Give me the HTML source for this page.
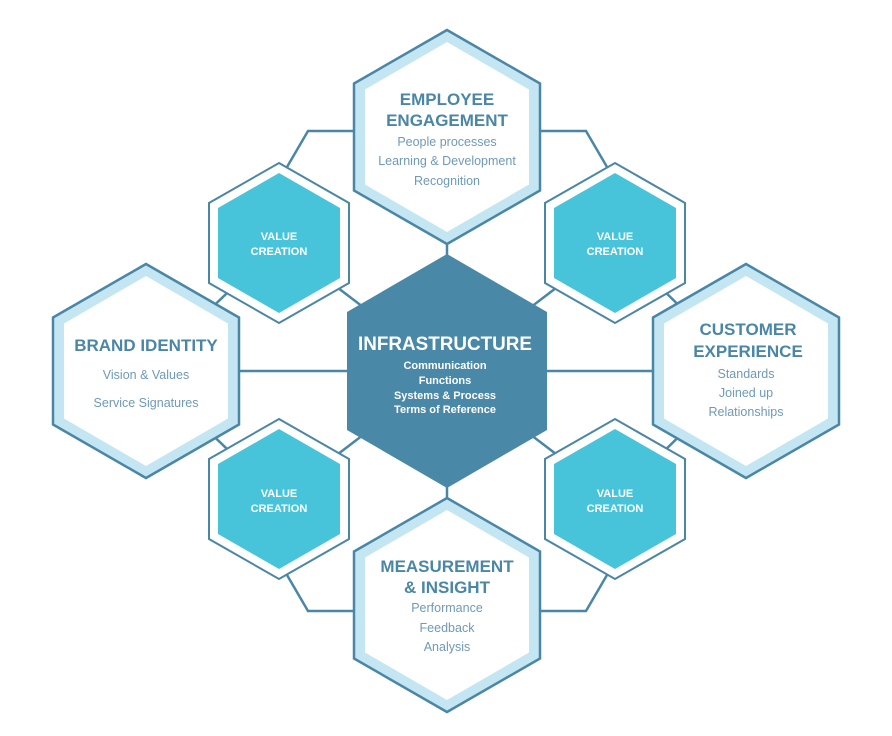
<!DOCTYPE html>
<html><head><meta charset="utf-8"><style>
html,body{margin:0;padding:0;background:#fff;}
svg{display:block;}
text{font-family:"Liberation Sans",sans-serif;text-anchor:middle;}
.t{fill:#4a86a6;font-weight:bold;font-size:17px;}
.b{fill:#6f9ab5;font-size:12.5px;}
.v{fill:#fff;font-weight:bold;font-size:11px;}
.i{fill:#fff;font-weight:bold;font-size:11px;}
</style></head><body>
<svg width="892" height="736" viewBox="0 0 892 736" xmlns="http://www.w3.org/2000/svg">
<g stroke="#4a86a6" stroke-width="2.5" fill="none">
<line x1="279" y1="243" x2="447" y2="371"/><line x1="615" y1="243" x2="447" y2="371"/>
<line x1="279" y1="499" x2="447" y2="371"/><line x1="615" y1="499" x2="447" y2="371"/>
<line x1="279" y1="243" x2="146" y2="371"/><line x1="279" y1="499" x2="146" y2="371"/>
<line x1="615" y1="243" x2="746" y2="371"/><line x1="615" y1="499" x2="746" y2="371"/>
<line x1="447" y1="240" x2="447" y2="258"/><line x1="447" y1="484" x2="447" y2="502"/>
<line x1="235" y1="371" x2="350" y2="371"/><line x1="544" y1="371" x2="657" y2="371"/>
<polyline points="354,131 308,131 287,167"/><polyline points="540,131 586,131 607,167"/>
<polyline points="354,611 308,611 287,575"/><polyline points="540,611 586,611 607,575"/>
</g>
<g stroke="#4a86a6" stroke-width="2.5" fill="#c4e6f3">
<polygon points="447,30 540,83.5 540,190.5 447,244 354,190.5 354,83.5"/>
<polygon points="146,264 239,317.5 239,424.5 146,478 53,424.5 53,317.5"/>
<polygon points="746,264 839,317.5 839,424.5 746,478 653,424.5 653,317.5"/>
<polygon points="447,498 540,551.5 540,658.5 447,712 354,658.5 354,551.5"/>
</g>
<g fill="#fff">
<polygon points="447,42 529,89.5 529,184.5 447,232 365,184.5 365,89.5"/>
<polygon points="146,276 228,323.5 228,418.5 146,466 64,418.5 64,323.5"/>
<polygon points="746,276 828,323.5 828,418.5 746,466 664,418.5 664,323.5"/>
<polygon points="447,510 529,557.5 529,652.5 447,700 365,652.5 365,557.5"/>
</g>
<g stroke="#4a86a6" stroke-width="2" fill="#fff">
<polygon points="279,163 349,203 349,283 279,323 209,283 209,203"/>
<polygon points="615,163 685,203 685,283 615,323 545,283 545,203"/>
<polygon points="279,419 349,459 349,539 279,579 209,539 209,459"/>
<polygon points="615,419 685,459 685,539 615,579 545,539 545,459"/>
</g>
<g fill="#48c4da">
<polygon points="279,173 340,208 340,278 279,313 218,278 218,208"/>
<polygon points="615,173 676,208 676,278 615,313 554,278 554,208"/>
<polygon points="279,429 340,464 340,534 279,569 218,534 218,464"/>
<polygon points="615,429 676,464 676,534 615,569 554,534 554,464"/>
</g>
<polygon points="447,254 547,312 547,430 447,488 347,430 347,312" fill="#4a88a8"/>

<text class="t" x="447" y="105">EMPLOYEE</text>
<text class="t" x="447" y="126">ENGAGEMENT</text>
<text class="b" x="447" y="146">People processes</text>
<text class="b" x="447" y="165">Learning &amp; Development</text>
<text class="b" x="447" y="185">Recognition</text>

<text class="t" x="146" y="351">BRAND IDENTITY</text>
<text class="b" x="146" y="379">Vision &amp; Values</text>
<text class="b" x="146" y="407">Service Signatures</text>

<text class="t" x="748" y="335">CUSTOMER</text>
<text class="t" x="748" y="357">EXPERIENCE</text>
<text class="b" x="746" y="378">Standards</text>
<text class="b" x="746" y="397">Joined up</text>
<text class="b" x="746" y="416">Relationships</text>

<text class="t" x="447" y="572">MEASUREMENT</text>
<text class="t" x="447" y="593">&amp; INSIGHT</text>
<text class="b" x="447" y="612">Performance</text>
<text class="b" x="447" y="632">Feedback</text>
<text class="b" x="447" y="651">Analysis</text>

<text x="445" y="350" fill="#fff" font-weight="bold" font-size="19" textLength="174" lengthAdjust="spacingAndGlyphs">INFRASTRUCTURE</text>
<text class="i" x="445" y="369">Communication</text>
<text class="i" x="445" y="384">Functions</text>
<text class="i" x="445" y="399">Systems &amp; Process</text>
<text class="i" x="445" y="413">Terms of Reference</text>

<text class="v" x="279" y="240">VALUE</text><text class="v" x="279" y="255">CREATION</text>
<text class="v" x="615" y="240">VALUE</text><text class="v" x="615" y="255">CREATION</text>
<text class="v" x="279" y="497">VALUE</text><text class="v" x="279" y="512">CREATION</text>
<text class="v" x="615" y="497">VALUE</text><text class="v" x="615" y="512">CREATION</text>
</svg>
</body></html>
